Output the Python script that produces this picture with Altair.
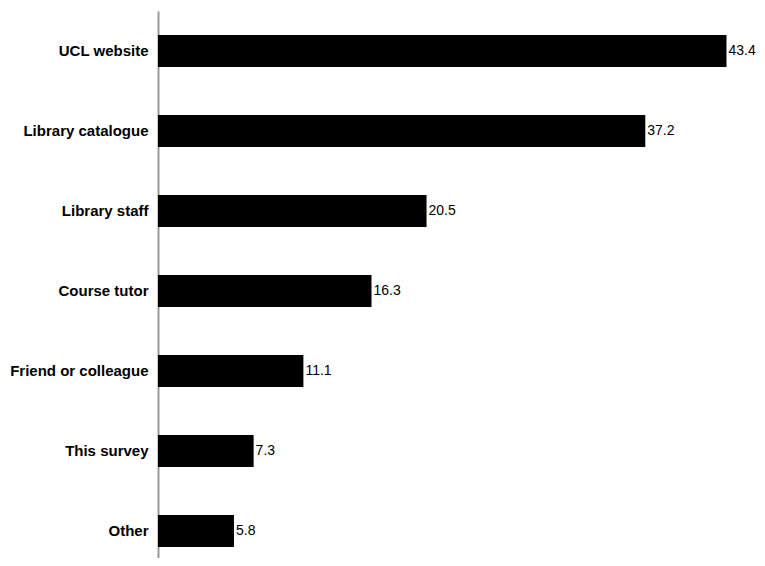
import altair as alt
import pandas as pd

categories = ["UCL website", "Library catalogue", "Library staff", "Course tutor",
              "Friend or colleague", "This survey", "Other"]
values = [43.4, 37.2, 20.5, 16.3, 11.1, 7.3, 5.8]

df = pd.DataFrame({"cat": categories, "val": values})

y = alt.Y("cat:N", sort=categories, title=None,
          scale=alt.Scale(paddingInner=0.6, paddingOuter=0.3, range=[0, 560]),
          axis=alt.Axis(ticks=False, labelFont="Liberation Sans", labelFontWeight="bold",
                        labelFontSize=15, labelColor="#000", labelPadding=10,
                        domainColor="#999", domainWidth=2, labelLimit=200))
x = alt.X("val:Q", title=None, scale=alt.Scale(domain=[0, 44.66], nice=False),
          axis=None)

bars = alt.Chart(df).mark_bar(color="#000").encode(x=x, y=y)
text = alt.Chart(df).mark_text(align="left", baseline="middle", dx=2,
                               font="Liberation Sans", fontSize=14, color="#000").encode(
    x=x, y=y, text=alt.Text("val:Q", format=".1f"))

chart = (bars + text).properties(
    width=585, height=547,
    autosize=alt.AutoSizeParams(type="none"),
    padding={"left": 150, "top": 3, "right": 14, "bottom": 0},
).configure(background="white").configure_view(stroke=None, strokeWidth=0)

chart.save("out.html", embed_options={"renderer": "svg", "actions": False})
